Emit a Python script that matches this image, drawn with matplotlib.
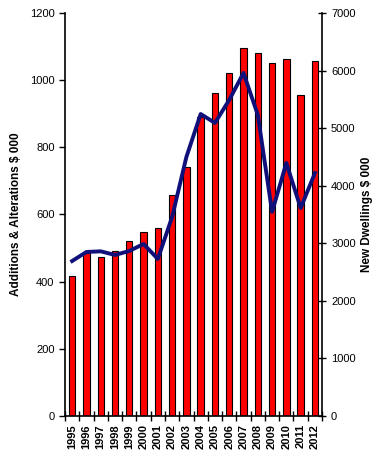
import numpy as np
import matplotlib.pyplot as plt

plt.rcParams['font.family'] = ['Liberation Sans', 'DejaVu Sans']

years = [str(y) for y in range(1995, 2013)]
additions = [417, 485, 473, 491, 521, 548, 560, 658, 741, 890,
             962, 1021, 1096, 1081, 1051, 1063, 956, 1057]
dwellings = [2692, 2849, 2860, 2797, 2866, 2988, 2727, 3457, 4499, 5245,
             5090, 5490, 5958, 5230, 3545, 4395, 3612, 4220]

fig = plt.figure(figsize=(3.78, 4.63), dpi=100)
ax = fig.add_axes([0.172, 0.1015, 0.68, 0.8705])
x = np.arange(len(years))

ax.bar(x, additions, width=0.45, color='#ff0000', edgecolor='black', linewidth=0.8, zorder=2)
ax.set_xlim(-0.5, len(years) - 0.5)
ax.set_ylim(0, 1200)
ax.set_yticks(range(0, 1201, 200))
ax.set_ylabel('Additions & Alterations $ 000', fontsize=8.5, fontweight='bold', labelpad=6)

ax.set_xticks(x)
ax.set_xticklabels(years, rotation=90, fontsize=8, fontweight='bold')
ax.tick_params(axis='x', which='major', length=0, pad=6)
ax.set_xticks(np.arange(-0.5, len(years)), minor=True)
ax.tick_params(axis='x', which='minor', length=7, width=1, direction='inout')
ax.tick_params(axis='y', labelsize=8, length=4, width=1, direction='out')

for s in ['top', 'right']:
    ax.spines[s].set_visible(False)
ax.spines['left'].set_linewidth(1.2)
ax.spines['bottom'].set_linewidth(1.2)

ax2 = ax.twinx()
ax2.plot(x, dwellings, color='#10107a', linewidth=2.8, zorder=3)
ax2.set_ylim(0, 7000)
ax2.set_yticks(range(0, 7001, 1000))
ax2.tick_params(axis='y', labelsize=8, length=6, width=1, direction='inout')
ax2.set_ylabel('New Dwellings $ 000', fontsize=8.5, fontweight='bold', labelpad=4)
for s in ['top', 'left', 'bottom']:
    ax2.spines[s].set_visible(False)
ax2.spines['right'].set_linewidth(1.2)

fig.savefig('out.png', dpi=100)
